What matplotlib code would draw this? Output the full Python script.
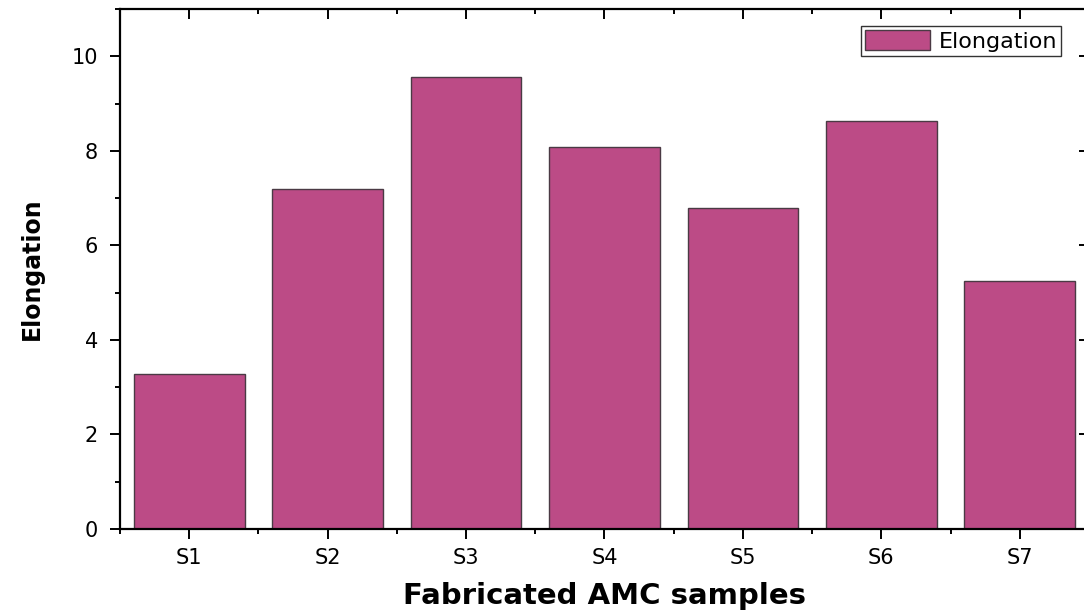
import numpy as np
import matplotlib.pyplot as plt
from matplotlib.ticker import MultipleLocator

# --- datos ---
muestras = ["S1", "S2", "S3", "S4", "S5", "S6", "S7"]
elongacion = [3.27, 7.19, 9.56, 8.08, 6.79, 8.63, 5.24]

color_barra = "#BC4B86"

plt.rcParams['font.family'] = ['DejaVu Sans']

fig = plt.figure(figsize=(10.84, 6.13), dpi=100)
ax = fig.add_axes([0.1107, 0.137, 0.8939, 0.8483])

x = np.arange(1, len(muestras) + 1)
ax.bar(x, elongacion, width=0.8, color=color_barra, edgecolor="#4a3a44",
       linewidth=1.0, label="Elongation")

ax.set_xlim(0.5, 7.5)
ax.set_ylim(0, 11)
ax.set_xticks(x)
ax.set_xticklabels(muestras)
ax.xaxis.set_minor_locator(MultipleLocator(1, offset=0.5))
ax.yaxis.set_major_locator(MultipleLocator(2))
ax.yaxis.set_minor_locator(MultipleLocator(1))

for s in ax.spines.values():
    s.set_linewidth(1.6)

ax.tick_params(which="both", width=1.4, labelsize=15)
ax.tick_params(axis="y", pad=9)
ax.tick_params(axis="x", pad=7)
ax.tick_params(which="major", length=7)
ax.tick_params(which="minor", length=3.5)
ax.tick_params(which="both", top=True, right=True)
# ticks de arriba y derecha hacia adentro (estilo Origin)
for t in ax.xaxis.get_major_ticks() + ax.xaxis.get_minor_ticks():
    t.tick2line.set_marker(3)
for t in ax.yaxis.get_major_ticks() + ax.yaxis.get_minor_ticks():
    t.tick2line.set_marker(0)

ax.set_xlabel("Fabricated AMC samples", fontsize=21, fontweight="bold", labelpad=10)
ax.set_ylabel("Elongation", fontsize=17, fontweight="bold", labelpad=20)

leg = ax.legend(loc="upper right", bbox_to_anchor=(0.9715, 0.968), fontsize=16,
                frameon=True, fancybox=False, borderpad=0.2, handlelength=2.9,
                handleheight=1.0, handletextpad=0.4, borderaxespad=0)
leg.get_frame().set_edgecolor("black")
leg.get_frame().set_linewidth(1.0)

fig.savefig("out.png", dpi=100)
